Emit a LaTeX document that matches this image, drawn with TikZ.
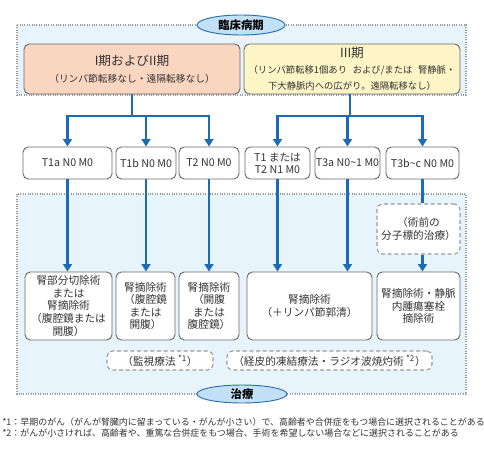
\documentclass[tikz,border=0pt]{standalone}
\usepackage{fontspec}
\setmainfont{Noto Sans CJK JP}
\usetikzlibrary{arrows.meta,shapes.geometric}
\definecolor{regionfill}{HTML}{E8F4FC}
\definecolor{regionline}{HTML}{9A9A9A}
\definecolor{ellfill}{HTML}{C2E0F6}
\definecolor{ellline}{HTML}{2C6FAF}
\definecolor{peach}{HTML}{FAD5C0}
\definecolor{cream}{HTML}{FEF5C6}
\definecolor{boxline}{HTML}{6A6A6A}
\definecolor{flow}{HTML}{1B6CB4}
\definecolor{txt}{HTML}{333333}
\newcommand{\bigt}{\fontsize{9.5}{12}\selectfont}
\newcommand{\smallt}{\fontsize{7.3}{9.6}\selectfont}
\newcommand{\smallu}{\fontsize{7.0}{9.8}\selectfont}
\begin{document}
\begin{tikzpicture}[x=0.75pt,y=-0.75pt,
  region/.style={fill=regionfill,draw=regionline,densely dotted,line width=0.8pt},
  stagebox/.style={draw=boxline,line width=0.7pt,rounded corners=4pt,inner sep=0pt,
    minimum width=162pt,minimum height=37.5pt,align=center,text=txt},
  tbox/.style={draw=boxline,fill=white,line width=0.7pt,rounded corners=4pt,inner sep=0pt,
    minimum height=24pt,align=center,text=txt,font=\fontsize{8}{9.2}\selectfont},
  rxbox/.style={draw=boxline,fill=white,line width=0.7pt,rounded corners=4pt,inner sep=0pt,
    minimum height=51pt,align=center,text=txt,font=\fontsize{8}{9.4}\selectfont},
  optbox/.style={draw=regionline,fill=white,densely dashed,line width=0.8pt,rounded corners=4pt,inner sep=0pt,
    align=center,text=txt,font=\fontsize{8}{9.4}\selectfont},
  label/.style={ellipse,draw=ellline,fill=ellfill,line width=0.7pt,inner sep=0pt,
    text=black,font=\fontsize{8.5}{10}\selectfont\bfseries},
  flowline/.style={draw=flow,line width=1.6pt},
  arr/.style={flowline,-{Triangle[width=6.5pt,length=5.5pt]}},
  note/.style={anchor=west,inner sep=0pt,text=txt,font=\fontsize{6.72}{8}\selectfont}
]
\useasboundingbox (0,0) rectangle (484,456);
\fill[white] (0,0) rectangle (484,456);

% regions
\path[region] (17,25) rectangle (466,95);
\path[region] (17,194) rectangle (466,394);

% stage boxes
\node[stagebox,fill=peach] (s12) at (132,69)
  {\bigt I期およびII期\\[1pt]
   \smallt （リンパ節転移なし・遠隔転移なし）};
\node[stagebox,fill=cream] (s3) at (352,69)
  {\bigt III期\\
   \smallu （リンパ節転移1個あり\hspace{0.6em}および/または\hspace{0.6em}腎静脈・\\
   \smallu 下大静脈内への広がり。遠隔転移なし）};

\node[label,minimum width=66pt,minimum height=15pt] (lab1) at (241,25) {臨床病期};

% T boxes
\node[tbox,minimum width=66.75pt] (t1a) at (67.5,163) {T1a N0 M0};
\node[tbox,minimum width=45pt] (t1b) at (146,163) {T1b N0 M0};
\node[tbox,minimum width=45pt] (t2) at (209,163) {T2 N0 M0};
\node[tbox,minimum width=48.75pt] (t12) at (277.5,163) {T1 または\\T2 N1 M0};
\node[tbox,minimum width=48.75pt] (t3a) at (347.5,163) {T3a N0\textasciitilde1 M0};
\node[tbox,minimum width=54.75pt] (t3b) at (422.5,163) {T3b\textasciitilde c N0 M0};

% branch points
\coordinate (jL) at (132,116);
\coordinate (jR) at (350,116);

\draw[flowline] (s12.south) -- (jL);
\draw[flowline] (s3.south -| jR) -- (jR);
\draw[arr] (jL) -| (t1a.north);
\draw[arr] (jL) -| (t1b.north);
\draw[arr] (jL) -| (t2.north);
\draw[arr] (jR) -| (t12.north);
\draw[arr] (jR) -| (t3a.north);
\draw[arr] (jR) -| (t3b.north);

% treatment boxes
\node[rxbox,minimum width=65.25pt] (b1) at (68.5,306) {腎部分切除術\\または\\腎摘除術\\（腹腔鏡または\\開腹）};
\node[rxbox,minimum width=44.25pt] (b2) at (145.5,306) {腎摘除術\\（腹腔鏡\\または\\開腹）};
\node[rxbox,minimum width=45pt] (b3) at (209,306) {腎摘除術\\（開腹\\または\\腹腔鏡）};
\node[rxbox,minimum width=93.75pt] (b4) at (309.5,306) {腎摘除術\\（＋リンパ節郭清）};
\node[rxbox,minimum width=62.25pt] (b5) at (418.5,306) {腎摘除術・静脈\\内腫瘍塞栓\\摘除術};

\node[optbox,minimum width=62.25pt,minimum height=37.5pt] (mol) at (418.5,229) {（術前の\\分子標的治療）};

\draw[arr] (t1a.south) -- (t1a.south |- b1.north);
\draw[arr] (t1b.south) -- (t1b.south |- b2.north);
\draw[arr] (t2.south) -- (t2.south |- b3.north);
\draw[arr] (t12.south) -- (t12.south |- b4.north);
\draw[arr] (t3a.south) -- (t3a.south |- b4.north);
\draw[flowline] (t3b.south) -- (t3b.south |- mol.north);
\draw[arr] (mol.south -| t3b) -- (t3b.south |- b5.north);

% optional therapies
\node[optbox,minimum width=79.5pt,minimum height=14.25pt] (obs) at (160,360.5) {（監視療法 \textsuperscript{*1}）};
\node[optbox,minimum width=153.75pt,minimum height=14.25pt] (abl) at (329.5,360.5) {（経皮的凍結療法・ラジオ波焼灼術 \textsuperscript{*2}）};

\node[label,minimum width=67.5pt,minimum height=13.5pt] (lab2) at (242,394) {治療};

% notes
\node[note] (n1) at (2,422) {*1：早期のがん（がんが腎臓内に留まっている・がんが小さい）で、高齢者や合併症をもつ場合に選択されることがある};
\node[note] (n2) at (2,433.5) {*2：がんが小さければ、高齢者や、重篤な合併症をもつ場合、手術を希望しない場合などに選択されることがある};
\end{tikzpicture}
\end{document}
